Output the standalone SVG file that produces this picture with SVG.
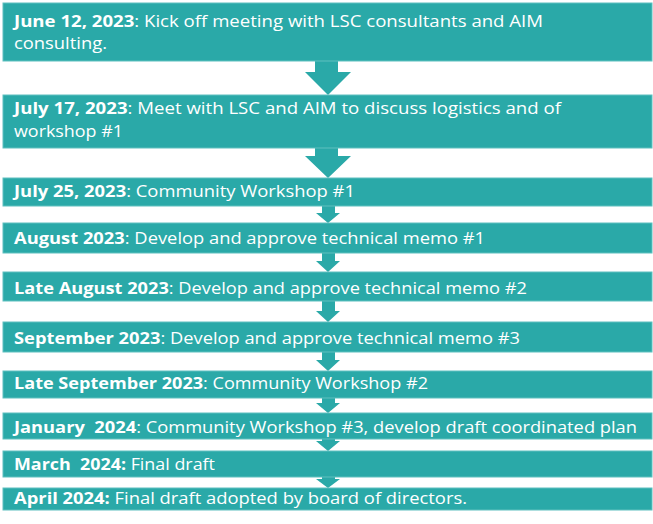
<svg xmlns="http://www.w3.org/2000/svg" width="653" height="524" viewBox="0 0 653 524">
<style>
.box{fill:#2AA9A8;stroke:#5FC0BF;stroke-width:1}
.arr{fill:#2AA9A8}
text{font-family:"Open Sans","Noto Sans","Liberation Sans",sans-serif;font-size:16.5px;fill:#FFFFFF}
.b{font-weight:bold}
</style>
<rect width="653" height="524" fill="#FFFFFF"/>
<g id="connectors">
<path class="arr" d="M315,60 H338 V72 H351 L328,95 L305,72 H315 Z"/>
<path class="arr" d="M315,147 H338 V156 H351 L328,178 L305,156 H315 Z"/>
<path class="arr" d="M322,205 H335 V213 H340 L328,223 L316,213 H322 Z"/>
<path class="arr" d="M322,252 H335 V261 H340 L328,272 L316,261 H322 Z"/>
<path class="arr" d="M322,300 H335 V311 H340 L328,322 L316,311 H322 Z"/>
<path class="arr" d="M322,351 H335 V360 H340 L328,371 L316,360 H322 Z"/>
<path class="arr" d="M322,397 H335 V403 H340 L328,413 L316,403 H322 Z"/>
<path class="arr" d="M322,438 H335 V441 H340 L328,451 L316,441 H322 Z"/>
<path class="arr" d="M322,476 H335 V479 H340 L328,488 L316,479 H322 Z"/>
</g>
<g id="n1"><rect class="box" x="3" y="3" width="649" height="58"/>
<text x="14" y="27" textLength="529" lengthAdjust="spacingAndGlyphs"><tspan class="b">June 12, 2023</tspan>: Kick off meeting with LSC consultants and AIM</text>
<text x="14" y="49" textLength="93" lengthAdjust="spacingAndGlyphs">consulting.</text></g>
<g id="n2"><rect class="box" x="3" y="95" width="649" height="53"/>
<text x="14" y="114" textLength="547" lengthAdjust="spacingAndGlyphs"><tspan class="b">July 17, 2023</tspan>: Meet with LSC and AIM to discuss logistics and of</text>
<text x="14" y="137" textLength="109" lengthAdjust="spacingAndGlyphs">workshop #1</text></g>
<g id="n3"><rect class="box" x="3" y="178" width="649" height="28"/>
<text x="14" y="197" textLength="341" lengthAdjust="spacingAndGlyphs"><tspan class="b">July 25, 2023</tspan>: Community Workshop #1</text></g>
<g id="n4"><rect class="box" x="3" y="223" width="649" height="30"/>
<text x="14" y="244" textLength="471" lengthAdjust="spacingAndGlyphs"><tspan class="b">August 2023</tspan>: Develop and approve technical memo #1</text></g>
<g id="n5"><rect class="box" x="3" y="272" width="649" height="29"/>
<text x="14" y="294" textLength="513" lengthAdjust="spacingAndGlyphs"><tspan class="b">Late August 2023</tspan>: Develop and approve technical memo #2</text></g>
<g id="n6"><rect class="box" x="3" y="322" width="649" height="30"/>
<text x="14" y="344" textLength="506" lengthAdjust="spacingAndGlyphs"><tspan class="b">September 2023</tspan>: Develop and approve technical memo #3</text></g>
<g id="n7"><rect class="box" x="3" y="371" width="649" height="27"/>
<text x="14" y="389" textLength="414" lengthAdjust="spacingAndGlyphs"><tspan class="b">Late September 2023</tspan>: Community Workshop #2</text></g>
<g id="n8"><rect class="box" x="3" y="413" width="649" height="26"/>
<text x="14" y="433" textLength="623" lengthAdjust="spacingAndGlyphs"><tspan class="b">January&#160; 2024</tspan>: Community Workshop #3, develop draft coordinated plan</text></g>
<g id="n9"><rect class="box" x="3" y="451" width="649" height="26"/>
<text x="14" y="470" textLength="201" lengthAdjust="spacingAndGlyphs"><tspan class="b">March&#160; 2024:</tspan> Final draft</text></g>
<g id="n10"><rect class="box" x="3" y="488" width="649" height="22"/>
<text x="14" y="504" textLength="453" lengthAdjust="spacingAndGlyphs"><tspan class="b">April 2024:</tspan> Final draft adopted by board of directors.</text></g>
</svg>
